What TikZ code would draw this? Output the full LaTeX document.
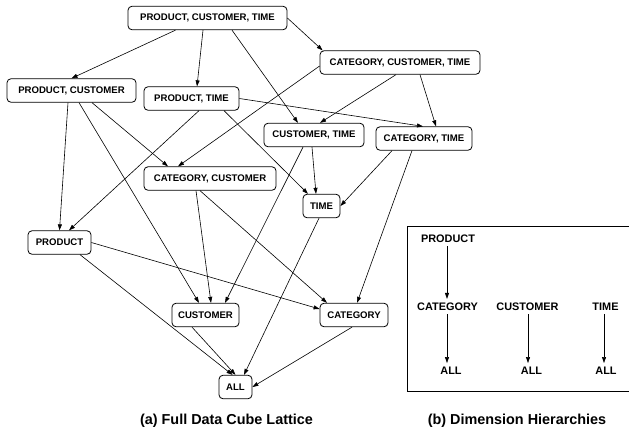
\documentclass[tikz,border=0pt]{standalone}
\usepackage{fontspec}
\setmainfont{Liberation Sans}
\usetikzlibrary{arrows.meta}
\tikzset{
  cell/.style={draw, rounded corners=4pt, line width=0.8pt, minimum height=23.5pt,
    inner sep=0pt, font=\fontsize{9.6}{11}\selectfont\bfseries},
  link/.style={line width=0.6pt, -{Triangle[length=6pt,width=4pt]}},
  dimtext/.style={inner sep=0pt, font=\fontsize{10.9}{12}\selectfont\bfseries},
  subcap/.style={inner sep=0pt, font=\fontsize{14.4}{16}\selectfont\bfseries}
}

\begin{document}
\begin{tikzpicture}[x=1pt, y=-1pt]
  \useasboundingbox (0,0) rectangle (629,432);

  % lattice
  \node[cell, minimum width=159pt] (pct) at (207.5,18) {PRODUCT, CUSTOMER, TIME};
  \node[cell, minimum width=129pt] (pc) at (71.5,90.5) {PRODUCT, CUSTOMER};
  \node[cell, minimum width=95pt] (pt) at (191.5,98.5) {PRODUCT, TIME};
  \node[cell, minimum width=160pt] (cct) at (400,62.5) {CATEGORY, CUSTOMER, TIME};
  \node[cell, minimum width=100pt] (cut) at (314,135) {CUSTOMER, TIME};
  \node[cell, minimum width=96pt] (ct) at (424,138.5) {CATEGORY, TIME};
  \node[cell, minimum width=132pt] (cc) at (210,178.5) {CATEGORY, CUSTOMER};
  \node[cell, minimum width=37pt] (time) at (321.5,206) {TIME};
  \node[cell, minimum width=63pt] (prod) at (59.5,242.5) {PRODUCT};
  \node[cell, minimum width=67pt] (cust) at (205.5,315) {CUSTOMER};
  \node[cell, minimum width=68pt] (cat) at (354,315) {CATEGORY};
  \node[cell, minimum width=33pt] (all) at (235.5,387) {ALL};

  \draw[link] ([xshift=-32pt]pct.south) -- (pc.north);
  \draw[link] ([xshift=-4.5pt]pct.south) -- ([xshift=5.5pt]pt.north);
  \draw[link] ([xshift=24.5pt]pct.south) -- ([xshift=-16pt]cut.north);
  \draw[link] (pct.east) -- ([xshift=3pt]cct.north west);

  \draw[link] ([xshift=-3.5pt]pc.south) -- (prod.north);
  \draw[link] ([xshift=7.5pt]pc.south) -- ([xshift=-6.5pt]cust.north);
  \draw[link] ([xshift=20.5pt]pc.south) -- ([xshift=-42pt]cc.north);

  \draw[link] ([xshift=7.5pt]pt.south) -- ([xshift=9.5pt]prod.north);
  \draw[link] ([xshift=32.5pt]pt.south) -- ([xshift=-13.5pt]time.north);
  \draw[link] (pt.east) -- ([xshift=-1pt]ct.north);

  \draw[link] ([yshift=-3.5pt]cct.west) -- ([xshift=-32pt]cc.north);
  \draw[link] ([xshift=-4pt]cct.south) -- ([xshift=6pt]cut.north);
  \draw[link] ([xshift=20pt]cct.south) -- ([xshift=12pt]ct.north);

  \draw[link] ([xshift=-11pt]cut.south) -- ([xshift=19.5pt]cust.north);
  \draw[link] ([xshift=-2pt]cut.south) -- ([xshift=-5.5pt]time.north);

  \draw[link] ([xshift=-32pt]ct.south) -- (time.east);
  \draw[link] ([xshift=-12pt]ct.south) -- ([xshift=3pt]cat.north);

  \draw[link] ([xshift=-14pt]cc.south) -- ([xshift=5.5pt]cust.north);
  \draw[link] ([xshift=-10pt]cc.south) -- ([xshift=-27pt]cat.north);

  \draw[link] (prod.east) -- ([yshift=6pt]cat.west);
  \draw[link] ([xshift=20.5pt]prod.south) -- ([xshift=-3pt]all.north);
  \draw[link] ([xshift=-13.5pt]cust.south) -- (all.north);
  \draw[link] ([xshift=-2.5pt]time.south) -- ([xshift=8.5pt]all.north);
  \draw[link] ([xshift=-2pt]cat.south) -- (all.east);

  \node[subcap] (capa) at (226.5,421) {(a) Full Data Cube Lattice};

  % hierarchies
  \draw[line width=0.8pt] (640,226) rectangle (407,391);
  \node[dimtext] (hprod) at (448,239) {PRODUCT};
  \node[dimtext] (hcat) at (447.5,307) {CATEGORY};
  \node[dimtext] (hcust) at (527.5,307) {CUSTOMER};
  \node[dimtext] (htime) at (605.5,307) {TIME};
  \node[dimtext] (hall1) at (451,371) {ALL};
  \node[dimtext] (hall2) at (531.5,371) {ALL};
  \node[dimtext] (hall3) at (606,371) {ALL};

  \draw[link] ([xshift=-1pt,yshift=-3pt]hprod.south) -- ([xshift=-1pt,yshift=4pt]hprod.south |- hcat.north);
  \draw[link] ([xshift=-0.5pt,yshift=-3pt]hcat.south) -- ([xshift=-0.5pt,yshift=4pt]hcat.south |- hall1.north);
  \draw[link] ([xshift=0.5pt,yshift=-3pt]hcust.south) -- ([xshift=0.5pt,yshift=4pt]hcust.south |- hall2.north);
  \draw[link] ([xshift=-1.5pt,yshift=-3pt]htime.south) -- ([xshift=-1.5pt,yshift=4pt]htime.south |- hall3.north);

  \node[subcap] (capb) at (517,421) {(b) Dimension Hierarchies};
\end{tikzpicture}
\end{document}
